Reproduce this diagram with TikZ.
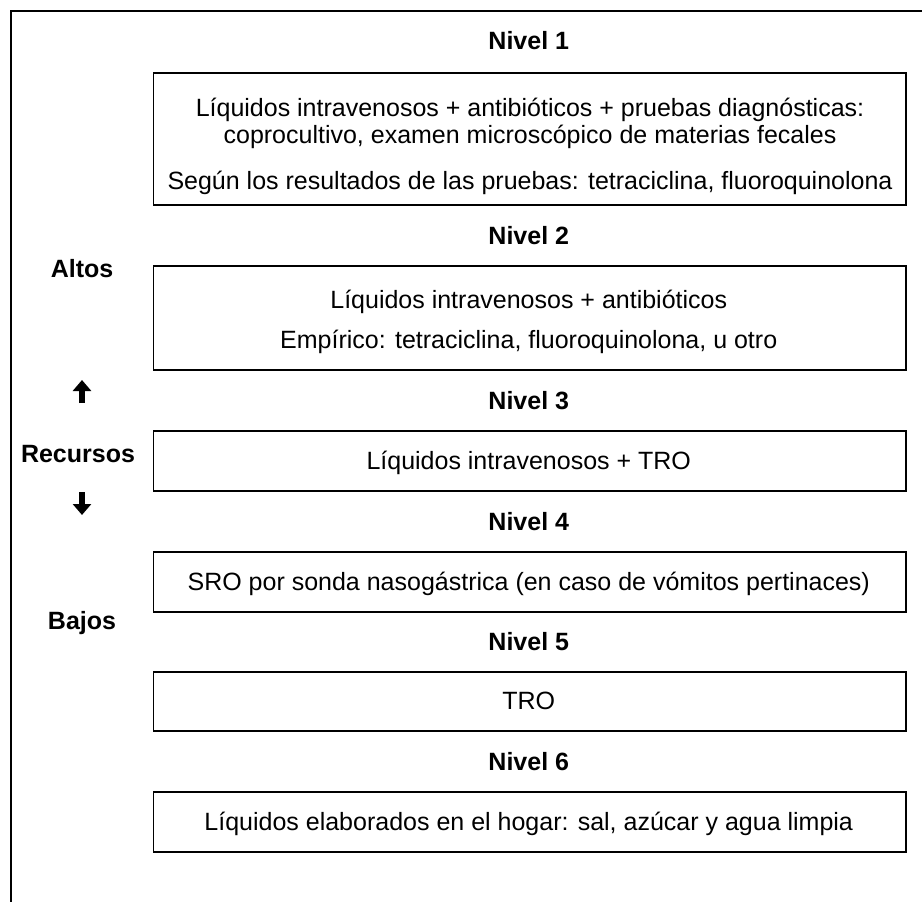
\documentclass[tikz,border=0pt]{standalone}
\usepackage{fontspec}
\setmainfont{Liberation Sans}
\usetikzlibrary{arrows.meta}
\begin{document}
\begin{tikzpicture}[x=1pt,y=-1pt,
  txt/.style={inner sep=0pt, anchor=base, font=\fontsize{25}{29}\selectfont},
  lvl/.style={inner sep=0pt, anchor=base, font=\fontsize{25}{29}\selectfont\bfseries},
  box/.style={draw, line width=1.5pt, anchor=north west, inner sep=0pt, minimum width=752.5pt},
  frame/.style={line width=2pt},
  blk/.style={line width=6pt, -{Triangle[width=18pt,length=11pt]}}
]
\useasboundingbox (0,0) rectangle (922,902);
% outer frame
\coordinate (ftl) at (11,11);
\coordinate (fbl) at (11,903);
\coordinate (ftr) at (923,11);
\draw[frame] (fbl) -- (ftl) -- (ftr);

% boxes
\node[box, minimum height=132pt] (b1) at (152.5,72) {};
\node[box, minimum height=104pt] (b2) at (152.5,265) {};
\node[box, minimum height=60pt] (b3) at (152.5,430) {};
\node[box, minimum height=60pt] (b4) at (152.5,551) {};
\node[box, minimum height=59pt] (b5) at (152.5,671) {};
\node[box, minimum height=60pt] (b6) at (152.5,791) {};

% level titles
\node[lvl] (n1) at (528.75,49) {Nivel 1};
\node[lvl] (n2) at (528.75,244) {Nivel 2};
\node[lvl] (n3) at (528.75,409) {Nivel 3};
\node[lvl] (n4) at (528.75,530) {Nivel 4};
\node[lvl] (n5) at (528.75,650) {Nivel 5};
\node[lvl] (n6) at (528.75,770) {Nivel 6};

% box texts
\node[txt] (t11) at (530,116) {Líquidos intravenosos + antibióticos + pruebas diagnósticas:};
\node[txt] (t12) at (530,143) {coprocultivo, examen microscópico de materias fecales};
\node[txt] (t13) at (530,189) {Según los resultados de las pruebas: tetraciclina, fluoroquinolona};
\node[txt] (t21) at (528.75,308) {Líquidos intravenosos + antibióticos};
\node[txt] (t22) at (528.75,348) {Empírico: tetraciclina, fluoroquinolona, u otro};
\node[txt] (t3) at (528.75,469) {Líquidos intravenosos + TRO};
\node[txt] (t4) at (528.75,590) {SRO por sonda nasogástrica (en caso de vómitos pertinaces)};
\node[txt] (t5) at (528.75,709) {TRO};
\node[txt] (t6) at (528.75,830) {Líquidos elaborados en el hogar: sal, azúcar y agua limpia};

% side labels
\node[lvl] (alt) at (82,277) {Altos};
\node[lvl] (rec) at (78,462) {Recursos};
\node[lvl] (baj) at (82,629) {Bajos};

% arrows
\coordinate (ua) at (82,403);
\coordinate (ub) at (82,380);
\coordinate (da) at (82,492);
\coordinate (db) at (82,515);
\draw[blk] (ua) -- (ub);
\draw[blk] (da) -- (db);
\end{tikzpicture}
\end{document}
